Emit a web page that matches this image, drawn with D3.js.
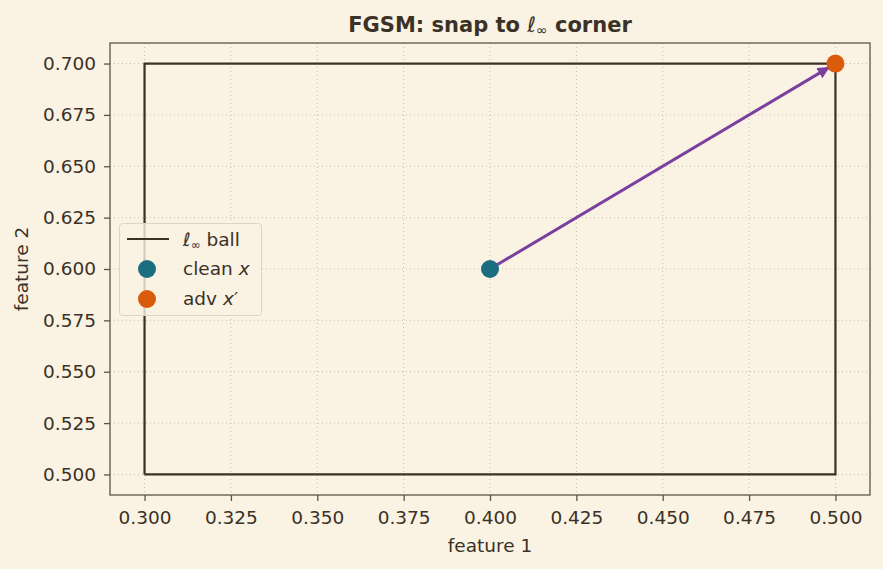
<!DOCTYPE html>
<html><head><meta charset="utf-8">
<script src="https://cdn.jsdelivr.net/npm/d3@7"></script>
<style>body{margin:0;background:#faf3e3;}svg{display:block;font-family:"DejaVu Sans",sans-serif;}</style>
</head><body>
<script>
const xTicks = [0.300,0.325,0.350,0.375,0.400,0.425,0.450,0.475,0.500];
const yTicks = [0.500,0.525,0.550,0.575,0.600,0.625,0.650,0.675,0.700];
const ballX = [0.3,0.5,0.5,0.3,0.3];
const ballY = [0.5,0.5,0.7,0.7,0.5];
const cleanPt = [0.4,0.6];
const advPt = [0.5,0.7];
const xDomain = [0.29,0.51];
const yDomain = [0.49,0.71];

const W=883,H=569, L=110,R=870,T=43,B=495;
const svg=d3.select("body").append("svg").attr("width",W).attr("height",H);
svg.append("rect").attr("width",W).attr("height",H).attr("fill","#faf3e3");
const x=d3.scaleLinear().domain(xDomain).range([L,R]);
const y=d3.scaleLinear().domain(yDomain).range([B,T]);
const ink="#3b3127", spine="#5e5443";
const FS=18.5;

// grid
const g=svg.append("g");
g.selectAll(".gx").data(xTicks).join("line").attr("x1",d=>x(d)).attr("x2",d=>x(d)).attr("y1",T).attr("y2",B)
 .attr("stroke","#b9b09e").attr("stroke-width",0.8).attr("stroke-dasharray","1,3");
g.selectAll(".gy").data(yTicks).join("line").attr("y1",d=>y(d)).attr("y2",d=>y(d)).attr("x1",L).attr("x2",R)
 .attr("stroke","#b9b09e").attr("stroke-width",0.8).attr("stroke-dasharray","1,3");

// axes
const xa=svg.append("g").attr("transform",`translate(0,${B})`).call(d3.axisBottom(x).tickValues(xTicks).tickFormat(d3.format(".3f")).tickSize(6).tickPadding(10));
const ya=svg.append("g").attr("transform",`translate(${L},0)`).call(d3.axisLeft(y).tickValues(yTicks).tickFormat(d3.format(".3f")).tickSize(6).tickPadding(8));
[xa,ya].forEach(a=>{a.attr("font-size",FS).attr("font-family","DejaVu Sans");a.select(".domain").remove();a.selectAll("line").attr("stroke",spine).attr("stroke-width",1.3);
 a.selectAll("text").attr("fill",ink);});
svg.append("rect").attr("x",L).attr("y",T).attr("width",R-L).attr("height",B-T).attr("fill","none").attr("stroke",spine).attr("stroke-width",1.3);

// ball
const line=d3.line().x(d=>x(d[0])).y(d=>y(d[1]));
svg.append("path").datum(d3.zip(ballX,ballY)).attr("d",line).attr("fill","none").attr("stroke",ink).attr("stroke-width",2.2);

// arrow
const defs=svg.append("defs");
defs.append("marker").attr("id","ah").attr("viewBox","0 0 10 10").attr("refX",9).attr("refY",5).attr("markerWidth",4).attr("markerHeight",4)
 .attr("markerUnits","strokeWidth").attr("orient","auto").append("path").attr("d","M0,0 L10,5 L0,10 Z").attr("fill","#7b3fa0");
const x1=x(cleanPt[0]),y1=y(cleanPt[1]),x2=x(advPt[0]),y2=y(advPt[1]);
const len=Math.hypot(x2-x1,y2-y1), ux=(x2-x1)/len, uy=(y2-y1)/len;
svg.append("line").attr("x1",x1).attr("y1",y1).attr("x2",x2-ux*8).attr("y2",y2-uy*8)
 .attr("stroke","#7b3fa0").attr("stroke-width",3).attr("marker-end","url(#ah)");

svg.append("circle").attr("cx",x1).attr("cy",y1).attr("r",9).attr("fill","#1a6e80");
svg.append("circle").attr("cx",x2).attr("cy",y2).attr("r",9).attr("fill","#d95b0b");

// labels
svg.append("text").attr("x",(L+R)/2).attr("y",32).attr("text-anchor","middle").attr("font-size",21).attr("font-weight","bold").attr("fill",ink)
 .html('FGSM: snap to <tspan font-style="italic" font-weight="normal">ℓ</tspan><tspan font-size="14" dy="3" font-weight="normal">∞</tspan><tspan dy="-3"> corner</tspan>');
svg.append("text").attr("x",(L+R)/2).attr("y",552).attr("text-anchor","middle").attr("font-size",FS).attr("fill",ink).text("feature 1");
svg.append("text").attr("transform",`translate(28,${(T+B)/2}) rotate(-90)`).attr("text-anchor","middle").attr("font-size",FS).attr("fill",ink).text("feature 2");

// legend
const lg=svg.append("g");
lg.append("rect").attr("x",119.5).attr("y",223.5).attr("width",142).attr("height",92).attr("rx",3).attr("fill","#faf3e3").attr("fill-opacity",0.8).attr("stroke","#ddd5c4");
lg.append("line").attr("x1",127).attr("x2",169).attr("y1",239).attr("y2",239).attr("stroke",ink).attr("stroke-width",2.2);
lg.append("circle").attr("cx",147).attr("cy",269).attr("r",9).attr("fill","#1a6e80");
lg.append("circle").attr("cx",147).attr("cy",299).attr("r",9).attr("fill","#d95b0b");
const lt=(yy,h)=>lg.append("text").attr("x",183).attr("y",yy).attr("font-size",FS).attr("fill",ink).html(h);
lt(246,'<tspan font-style="italic">ℓ</tspan><tspan font-size="12" dy="3">∞</tspan><tspan dy="-3"> ball</tspan>');
lt(275,'clean <tspan font-style="italic">x</tspan>');
lt(305,'adv <tspan font-style="italic">x</tspan><tspan>′</tspan>');
</script>
</body></html>
